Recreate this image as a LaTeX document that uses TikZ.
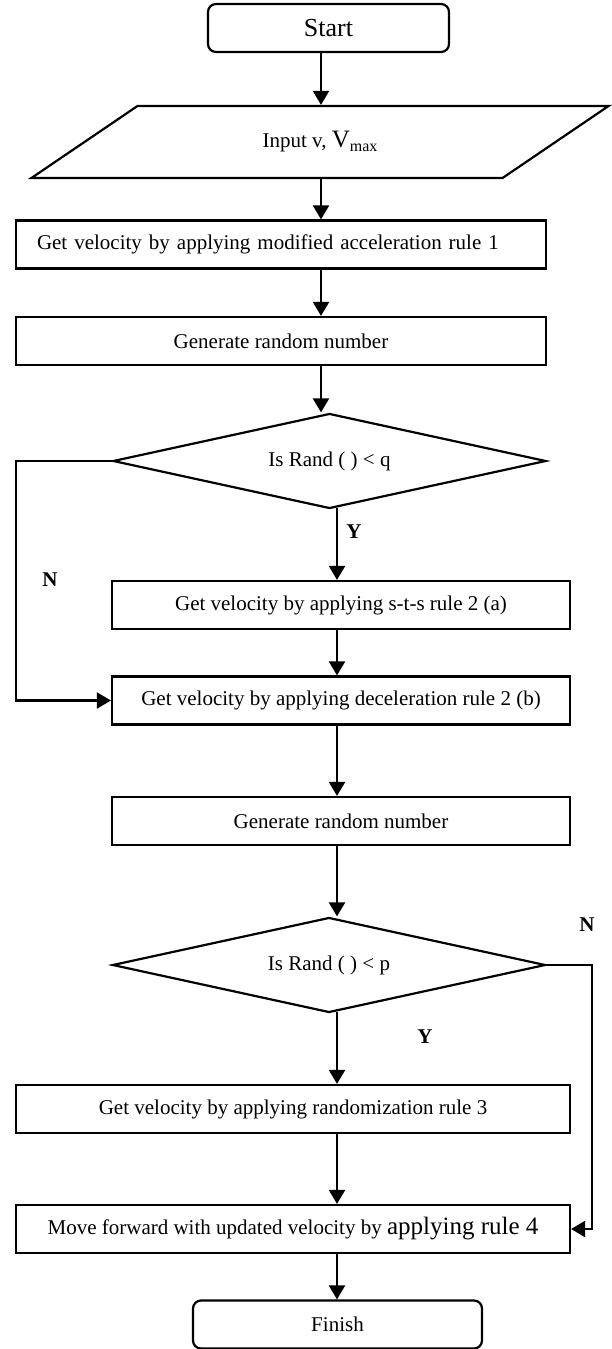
\documentclass[tikz,border=0pt]{standalone}
\usepackage{fontspec}
\setmainfont{Liberation Serif}
\usetikzlibrary{arrows.meta,shapes.geometric}

\begin{document}
\begin{tikzpicture}[x=0.5pt,y=-0.5pt,line width=1.1pt,
    every node/.style={font=\fontsize{10.5}{12.6}\selectfont},
    procbox/.style={draw,rectangle,minimum height=24pt,inner sep=0pt},
    termbox/.style={draw,rectangle,rounded corners=4pt,minimum height=24pt,inner sep=0pt},
    iobox/.style={draw,trapezium,trapezium left angle=32,trapezium right angle=148,
        trapezium stretches=true,minimum width=289pt,minimum height=36pt,inner sep=0pt},
    decbox/.style={draw,diamond,aspect=4.5,minimum width=216.5pt,minimum height=47.5pt,inner sep=0pt},
    yn/.style={font=\fontsize{10.5}{12.6}\selectfont\bfseries},
    arr/.style={-{Triangle[length=7pt,width=8pt]}}]
        \useasboundingbox (0,0) rectangle (611,1349);

        % Draw start and input
        \node[termbox,minimum width=120.5pt,font=\fontsize{13}{15}\selectfont] (start) at (328.5,28) {Start};
        \node[iobox] (input) at (320,142) {Input v, {\fontsize{12.5}{14}\selectfont V}\raisebox{-2pt}{\fontsize{8}{9}\selectfont max}};

        % Draw first rule and first random number
        \node[procbox,minimum width=265pt,text width=244pt,inner xsep=10.5pt,align=left] (accel) at (281,244.5) {Get velocity by applying modified acceleration rule 1};
        \node[procbox,minimum width=265pt] (rand1) at (281,341) {Generate random number};
        \node[decbox] (isq) at (329.5,461) {Is Rand ( ) < q};

        % Draw second rule
        \node[procbox,minimum width=229pt] (sts) at (341,605) {Get velocity by applying s-t-s rule 2 (a)};
        \node[procbox,minimum width=229pt] (decel) at (341,700.5) {Get velocity by applying deceleration rule 2 (b)};
        \node[procbox,minimum width=229pt] (rand2) at (341,821) {Generate random number};
        \node[decbox] (isp) at (329,965) {Is Rand ( ) < p};

        % Draw third and fourth rule
        \node[procbox,minimum width=277pt] (randz) at (293,1109) {Get velocity by applying randomization rule 3};
        \node[procbox,minimum width=277pt] (move) at (293,1229) {Move forward with updated velocity by {\fontsize{12.5}{14}\selectfont applying rule 4}};
        \node[termbox,minimum width=144.5pt] (finish) at (337.5,1324.5) {Finish};

        % Labels
        \node[yn] (yq) at (354,532) {Y};
        \node[yn] (nq) at (50,580) {N};
        \node[yn] (np) at (587,925) {N};
        \node[yn] (yp) at (425,1037) {Y};

        % Arrows
        \coordinate (spineA) at (321,0);
        \coordinate (spineB) at (337,0);
        \coordinate (railL) at (16,600);
        \coordinate (railR) at (592,1100);
        \draw[arr] (start.south -| spineA) -- (input.north -| spineA);
        \draw[arr] (input.south -| spineA) -- (accel.north -| spineA);
        \draw[arr] (accel.south -| spineA) -- (rand1.north -| spineA);
        \draw[arr] (rand1.south -| spineA) -- (isq.north -| spineA);
        \draw[arr,shorten <=-1pt] (isq.south -| spineB) -- (sts.north -| spineB);
        \draw[arr] (sts.south -| spineB) -- (decel.north -| spineB);
        \draw[arr] (decel.south -| spineB) -- (rand2.north -| spineB);
        \draw[arr] (rand2.south -| spineB) -- (isp.north -| spineB);
        \draw[arr,shorten <=-1pt] (isp.south -| spineB) -- (randz.north -| spineB);
        \draw[arr] (randz.south -| spineB) -- (move.north -| spineB);
        \draw[arr] (move.south -| spineB) -- (finish.north -| spineB);
        \draw[arr] (isq.west) -| (railL) |- (decel.west);
        \draw[arr] (isp.east) -| (railR) |- (move.east);
    \end{tikzpicture}
\end{document}
